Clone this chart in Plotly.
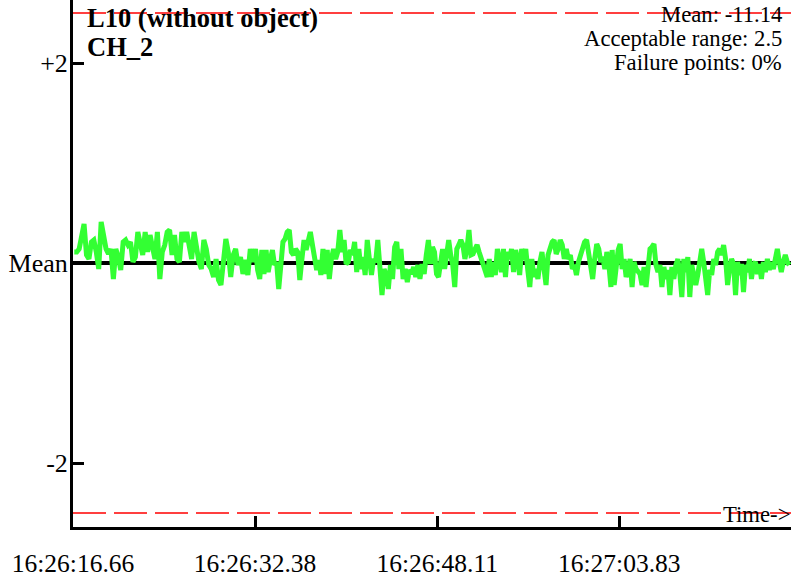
import plotly.graph_objects as go

# ---------------- data ----------------
tick_seconds = [0.0, 15.72, 31.45, 47.17]          # seconds after 16:26:16.66
tick_labels = ["16:26:16.66", "16:26:32.38", "16:26:48.11", "16:27:03.83"]
x_range = [0.0, 62.0]
y_range = [-2.64, 2.63]

y_tick_vals = [2, 0, -2]
y_tick_text = ["+2", "Mean", "-2"]

mean_value = -11.14
acceptable_range = 2.5
failure_pct = 0

title_line1 = "L10 (without object)"
title_line2 = "CH_2"

# deviation from mean, four blocks of readings
block1 = [0.11, 0.11, 0.14, 0.28, 0.39, 0.08, 0.04, 0.21, 0.23, 0.11,
          -0.06, 0.41, 0.28, 0.14, 0.09, 0.14, -0.16, 0.14, 0.06, -0.07,
          0.21, 0.23, 0.18, 0.21, 0.01, 0.06, 0.31, 0.21, 0.08, 0.31,
          0.11, 0.28, 0.16, 0.04, 0.31, -0.16, 0.11, 0.18, 0.31, 0.33,
          0.08, 0.28, 0.04, 0.01, 0.31, 0.21, 0.31, 0.14, 0.04, 0.31,
          0.11, 0.01, -0.06, 0.23, 0.14, -0.02, -0.06, -0.14, 0.04, -0.17,
          -0.22, 0.04, 0.24, 0.11, -0.14, 0.08, 0.14, -0.02, 0.06, -0.11,
          0.03, -0.12, 0.14, 0.01]
block2 = [0.04, 0.14, -0.07, -0.16, 0.13, -0.11, 0.13, -0.09, 0.03, 0.13,
          -0.02, 0.01, -0.26, 0.01, 0.21, 0.24, 0.31, 0.33, 0.11, 0.08,
          0.14, 0.11, -0.17, 0.04, 0.23, 0.13, 0.21, 0.31, 0.18, 0.04,
          -0.07, 0.03, -0.12, 0.14, -0.11, 0.13, -0.16, 0.04, 0.14, 0.04,
          0.11, 0.33, 0.11, 0.23, -0.01, 0.01, 0.13, 0.08, 0.21, -0.09,
          0.14, -0.06, 0.06, -0.12, 0.23, 0.04, -0.12, 0.04, 0.01, 0.23,
          -0.11, -0.32, -0.06, -0.12, -0.26, -0.02, -0.16, 0.16, 0.21, -0.06,
          0.14, -0.16, -0.06, -0.19, -0.07, -0.11, -0.04, -0.14, -0.02, -0.16,
          -0.01, -0.11, 0.08, 0.23, -0.01]
block3 = [0.16, 0.11, -0.11, -0.14, 0.01, 0.14, -0.06, 0.11, 0.23, 0.08,
          -0.02, -0.24, 0.14, 0.18, 0.23, 0.18, 0.04, 0.14, 0.33, 0.08,
          0.09, 0.14, 0.18, 0.11, 0.04, -0.02, -0.09, -0.14, 0.04, -0.14,
          0.01, -0.12, 0.14, 0.04, -0.09, 0.14, -0.14, 0.11, 0.04, 0.14,
          -0.09, 0.13, 0.04, -0.12, 0.14, 0.03, 0.14, -0.07, -0.24, 0.04,
          -0.14, -0.06, -0.16, 0.01, 0.11, -0.06, -0.22, 0.08, 0.14, 0.21,
          0.23, 0.09, 0.14, 0.23, 0.18, 0.04, 0.14, 0.04, 0.08, -0.06,
          -0.02, -0.12, 0.01, 0.08, 0.14, 0.21, 0.23, 0.09, -0.07, -0.16,
          0.04, 0.19, 0.14, 0.01, 0.06, -0.06, 0.11, -0.02, -0.24]
block4 = [0.13, -0.22, -0.01, 0.13, 0.19, -0.06, 0.04, -0.14, -0.07, 0.04,
          -0.24, 0.01, -0.06, -0.09, -0.11, -0.22, -0.04, -0.24, -0.02, 0.14,
          0.16, 0.19, -0.02, -0.09, -0.02, -0.24, -0.04, -0.16, -0.07, -0.32,
          -0.04, -0.16, -0.02, 0.04, -0.11, -0.34, 0.04, -0.09, 0.06, -0.34,
          -0.02, -0.11, -0.22, -0.12, 0.04, 0.14, 0.01, -0.14, -0.32, -0.07,
          -0.12, 0.04, -0.02, 0.11, 0.14, 0.08, 0.18, 0.04, -0.22, -0.06,
          0.04, -0.01, -0.32, 0.01, -0.12, -0.01, -0.29, -0.02, -0.09, 0.04,
          -0.16, -0.02, 0.01, -0.11, -0.01, -0.16, 0.01, -0.09, 0.04, -0.07,
          0.01, -0.06, 0.04, 0.14, 0.01, -0.09, 0.01, 0.08, 0.01, -0.02]
# time (s after 16:26:16.66) of first and last reading of each block
block_first_s = [0.11, 15.58, 31.04, 46.56]
block_last_s = [15.52, 30.87, 46.45, 61.85]

blocks = [block1, block2, block3, block4]
times, devs = [], []
for blk, t0, t1 in zip(blocks, block_first_s, block_last_s):
    n = len(blk)
    step = (t1 - t0) / (n - 1)
    times += [t0 + i * step for i in range(n)]
    devs += blk

# ---------------- figure ----------------
FONT = "Liberation Serif, Times New Roman, serif"
fig = go.Figure()

fig.add_trace(go.Scatter(x=x_range, y=[0, 0], mode="lines",
                         line=dict(color="black", width=4), hoverinfo="skip"))
for lim in (acceptable_range, -acceptable_range):
    fig.add_trace(go.Scatter(x=x_range, y=[lim, lim], mode="lines",
                             line=dict(color="#ff0000", width=1.5, dash="33px,8px"),
                             hoverinfo="skip"))
fig.add_trace(go.Scatter(x=times, y=devs, mode="lines",
                         line=dict(color="#33ff33", width=5)))

L = 73
fig.update_layout(
    width=791, height=582,
    margin=dict(l=L, r=0, t=0, b=55),
    paper_bgcolor="white", plot_bgcolor="white",
    showlegend=False,
    font=dict(family=FONT, color="black"),
)
fig.update_xaxes(range=x_range, tickvals=tick_seconds, ticktext=tick_labels,
                 ticks="inside", ticklen=11, tickwidth=3, tickcolor="black",
                 showline=True, linecolor="black", linewidth=3,
                 showgrid=False, zeroline=False,
                 tickfont=dict(family=FONT, size=25.5, color="black"),
                 ticklabelstandoff=11)
fig.update_yaxes(range=y_range, tickvals=y_tick_vals, ticktext=y_tick_text,
                 ticks="inside", ticklen=11, tickwidth=3, tickcolor="black",
                 showline=True, linecolor="black", linewidth=3,
                 showgrid=False, zeroline=False,
                 tickfont=dict(family=FONT, size=26, color="black"),
                 ticklabelstandoff=-3)

H = 527.0
W = 791.0 - L
def py(pix):
    return 1 - pix / H
def px(pix):
    return (pix - L) / W

anns = [
    dict(text="<b>%s</b>" % title_line1, x=px(86), y=py(18), xanchor="left", size=26.5),
    dict(text="<b>%s</b>" % title_line2, x=px(86), y=py(47), xanchor="left", size=26.5),
    dict(text="Mean: %.2f" % mean_value, x=px(783), y=py(15), xanchor="right", size=22.7),
    dict(text="Acceptable range: %s" % acceptable_range, x=px(783), y=py(38), xanchor="right", size=22.7),
    dict(text="Failure points: %d%%" % failure_pct, x=px(783), y=py(62), xanchor="right", size=22.7),
    dict(text="Time->", x=1.0, y=py(514), xanchor="right", size=22.7),
]
for a in anns:
    fig.add_annotation(text=a["text"], x=a["x"], y=a["y"], xref="paper", yref="paper",
                       xanchor=a["xanchor"], yanchor="middle", showarrow=False,
                       borderpad=0, font=dict(family=FONT, size=a["size"], color="black"))

fig.write_html("out.html", config={"displayModeBar": False},
               post_script="document.body.style.margin='0px';document.body.style.padding='0px';")
